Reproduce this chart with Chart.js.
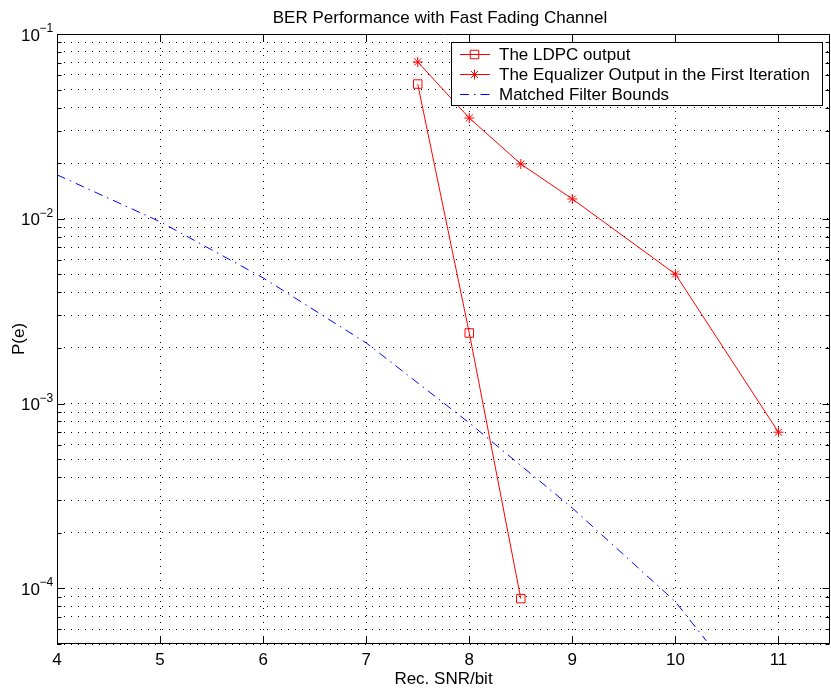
<!DOCTYPE html>
<html><head><meta charset="utf-8">
<script src="https://cdn.jsdelivr.net/npm/chart.js@4.4.1/dist/chart.umd.min.js"></script>
<style>html,body{margin:0;padding:0;background:#fff}#wrap{width:831px;height:693px}</style>
</head><body><div id="wrap"><canvas id="c" width="831" height="693"></canvas></div>
<script>
const titleText = 'BER Performance with Fast Fading Channel';
const xLabel = 'Rec. SNR/bit';
const yLabel = 'P(e)';
const xTicks = [4, 5, 6, 7, 8, 9, 10, 11];
const yDecades = [-4, -3, -2, -1];
const seriesNames = ['The LDPC output', 'The Equalizer Output in the First Iteration', 'Matched Filter Bounds'];
const ldpcSnr = [7.5, 8, 8.5];
const ldpcBer = [0.0536, 0.00241, 0.000088];
const eqSnr = [7.5, 8, 8.5, 9, 10, 11];
const eqBer = [0.0706, 0.0351, 0.0198, 0.0128, 0.00502, 0.0007];
const mfSnr = [4, 5, 6, 7, 8, 9, 10, 10.3];
const mfBer = [0.0173, 0.00964, 0.00479, 0.00213, 0.000786, 0.000272, 0.0000847, 0.000052];

const FONT = '"Liberation Sans", Arial, Helvetica, sans-serif';
Chart.defaults.font.family = FONT;
Chart.defaults.color = '#000';

const toPts = (xs, ys) => xs.map((x, i) => ({x: x, y: ys[i]}));
const RED = 'rgb(255,0,0)', BLUE = 'rgb(0,0,255)';

const yGridValues = [];
for (let e = -5; e <= -1; e++) {
  for (let m = 1; m <= 9; m++) {
    const v = Number((m * Math.pow(10, e)).toPrecision(3));
    if (v >= 0.00005 && v <= 0.1) yGridValues.push(v);
  }
}

const overlay = {
  id: 'overlay',
  afterDraw(chart) {
    const ctx = chart.ctx;
    const a = chart.chartArea;
    const xs = chart.scales.x, ys = chart.scales.y;
    ctx.save();
    ctx.strokeStyle = '#000';
    ctx.lineWidth = 1;
    const L = Math.round(a.left) + 0.5, R = Math.round(a.right) - 0.5;
    const T = Math.round(a.top) + 0.5, B = Math.round(a.bottom) - 0.5;
    ctx.beginPath();
    ctx.rect(L, T, R - L, B - T);
    ctx.stroke();
    ctx.beginPath();
    xTicks.forEach(v => {
      const px = Math.round(xs.getPixelForValue(v)) + 0.5;
      ctx.moveTo(px, B); ctx.lineTo(px, B - 7);
      ctx.moveTo(px, T); ctx.lineTo(px, T + 7);
    });
    yGridValues.forEach(v => {
      const py = Math.round(ys.getPixelForValue(v)) + 0.5;
      const major = Math.abs(Math.log10(v) - Math.round(Math.log10(v))) < 1e-6;
      const len = major ? 7 : 4;
      ctx.moveTo(L, py); ctx.lineTo(L + len, py);
      ctx.moveTo(R, py); ctx.lineTo(R - len, py);
    });
    ctx.stroke();
    ctx.fillStyle = '#000';
    ctx.font = '17px ' + FONT;
    ctx.textAlign = 'center';
    ctx.textBaseline = 'alphabetic';
    xTicks.forEach(v => {
      ctx.fillText(String(v), xs.getPixelForValue(v), B + 21.5);
    });
    yDecades.forEach(e => {
      const py = ys.getPixelForValue(Math.pow(10, e));
      ctx.font = '17px ' + FONT;
      ctx.textAlign = 'right';
      ctx.fillText('10', 40, py + 6.5);
      ctx.font = '12px ' + FONT;
      ctx.textAlign = 'left';
      ctx.fillText('\u2212' + String(-e), 39.5, py - 2);
    });
    ctx.font = '17px ' + FONT;
    ctx.textAlign = 'center';
    ctx.fillText(titleText, 440, 23);
    const lx0 = 451.5, ly0 = 42.5, lx1 = 822.5, ly1 = 105.5;
    ctx.fillStyle = '#fff';
    ctx.fillRect(lx0, ly0, lx1 - lx0, ly1 - ly0);
    ctx.strokeStyle = '#000';
    ctx.lineWidth = 1;
    ctx.strokeRect(lx0, ly0, lx1 - lx0, ly1 - ly0);
    const rows = [54, 74, 94];
    chart.data.datasets.forEach((ds, i) => {
      const y = rows[i] + 0.5;
      ctx.save();
      ctx.strokeStyle = ds.borderColor;
      ctx.lineWidth = ds.borderWidth;
      ctx.setLineDash(ds.borderDash || []);
      ctx.beginPath();
      ctx.moveTo(460, y); ctx.lineTo(490, y);
      ctx.stroke();
      ctx.setLineDash([]);
      if (ds.pointRadius > 0) {
        ctx.fillStyle = 'rgba(0,0,0,0)';
        ctx.strokeStyle = ds.pointBorderColor;
        ctx.lineWidth = ds.pointBorderWidth;
        Chart.helpers.drawPoint(ctx, {pointStyle: ds.pointStyle, radius: ds.pointRadius, rotation: 0, borderWidth: ds.pointBorderWidth}, 474.5, y);
      }
      ctx.restore();
      ctx.fillStyle = '#000';
      ctx.font = '17px ' + FONT;
      ctx.textAlign = 'left';
      ctx.textBaseline = 'alphabetic';
      ctx.fillText(ds.label, 499, rows[i] + 6);
    });
    ctx.restore();
  }
};

new Chart(document.getElementById('c'), {
  type: 'line',
  data: {
    datasets: [
      {
        label: seriesNames[0], data: toPts(ldpcSnr, ldpcBer),
        borderColor: RED, borderWidth: 1, pointStyle: 'rect', pointRadius: 6,
        pointBorderColor: RED, pointBackgroundColor: 'rgba(0,0,0,0)', pointBorderWidth: 1, tension: 0
      },
      {
        label: seriesNames[1], data: toPts(eqSnr, eqBer),
        borderColor: RED, borderWidth: 1, pointStyle: 'star', pointRadius: 5,
        pointBorderColor: RED, pointBackgroundColor: 'rgba(0,0,0,0)', pointBorderWidth: 1, tension: 0
      },
      {
        label: seriesNames[2], data: toPts(mfSnr, mfBer),
        borderColor: BLUE, borderWidth: 1, borderDash: [9, 5, 1.5, 5], pointRadius: 0, tension: 0
      }
    ]
  },
  options: {
    responsive: false,
    animation: false,
    devicePixelRatio: 1,
    layout: {autoPadding: false, padding: {top: 34, right: 1, bottom: 0, left: 0}},
    plugins: {legend: {display: false}, title: {display: false}, tooltip: {enabled: false}},
    scales: {
      x: {
        type: 'linear', min: 4, max: 11.5,
        afterBuildTicks: s => { s.ticks = xTicks.map(v => ({value: v})); },
        afterFit: s => { s.height = 49; s.paddingLeft = 0; s.paddingRight = 0; },
        ticks: {display: false},
        grid: {color: '#000', lineWidth: 1, drawTicks: false},
        border: {display: false, dash: [1, 6]},
        title: {display: true, text: xLabel, font: {size: 17}, padding: {top: 0, bottom: 3.8}}
      },
      y: {
        type: 'logarithmic', min: 0.00005, max: 0.1,
        afterBuildTicks: s => { s.ticks = yGridValues.map(v => ({value: v})); },
        afterFit: s => { s.width = 57; s.paddingTop = 0; s.paddingBottom = 0; },
        ticks: {display: false},
        grid: {color: '#000', lineWidth: 1, drawTicks: false},
        border: {display: false, dash: [1, 6]},
        title: {display: true, text: yLabel, font: {size: 17}, padding: {top: 8.8, bottom: 0}}
      }
    }
  },
  plugins: [overlay]
});
</script>
</body></html>
